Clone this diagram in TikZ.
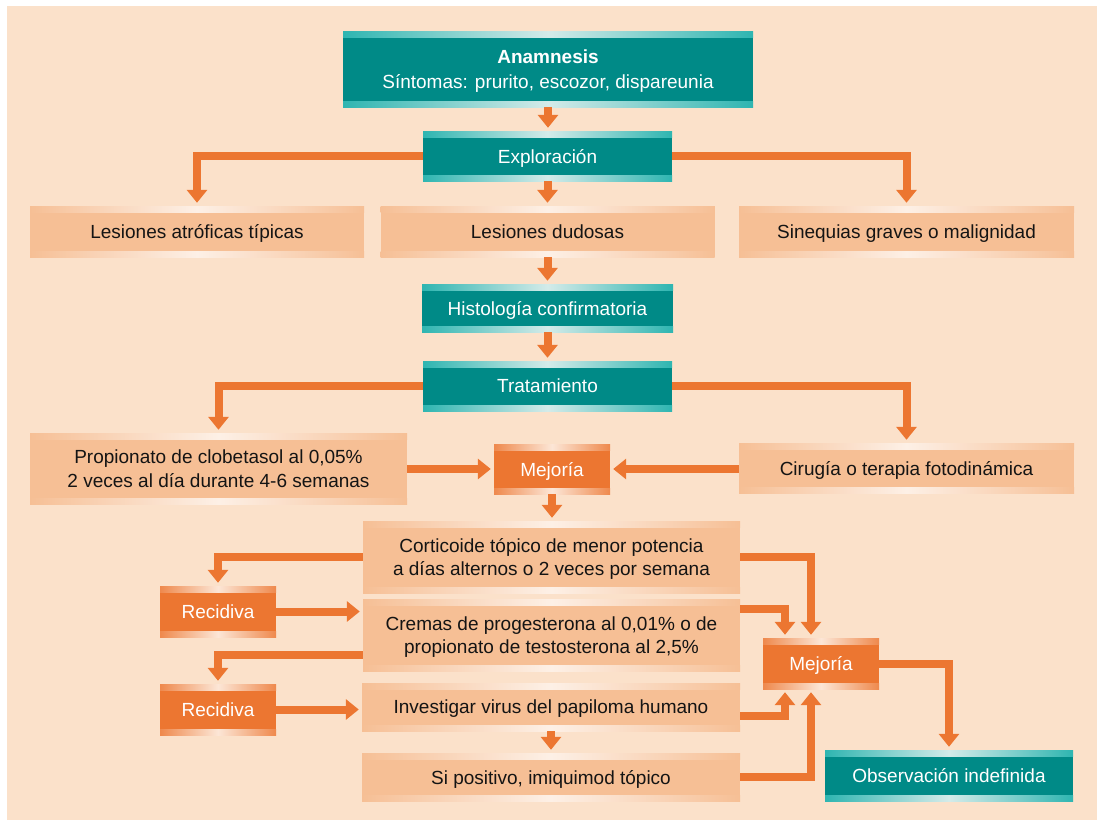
\documentclass[tikz,border=0pt]{standalone}
\usepackage{fontspec}
\setmainfont{Liberation Sans}
\usetikzlibrary{arrows.meta}

\definecolor{bgpeach}{HTML}{FBE1CA}
\definecolor{tealmain}{HTML}{008A87}
\definecolor{tealbright}{HTML}{00A6A1}
\definecolor{teallight}{HTML}{D4EBE9}
\definecolor{peachbox}{HTML}{F6BF95}
\definecolor{peachlight}{HTML}{FDF0E6}
\definecolor{orangemain}{HTML}{EC7631}
\definecolor{orangelight}{HTML}{FCE6D6}
\definecolor{inktext}{HTML}{141414}

% highlight bands along the top and bottom edge of every box
\pgfdeclarehorizontalshading{tealstrip}{100bp}{color(0bp)=(tealmain); color(18bp)=(tealbright); color(50bp)=(teallight); color(82bp)=(tealbright); color(100bp)=(tealmain)}
\pgfdeclarehorizontalshading{peachstrip}{100bp}{color(0bp)=(peachbox); color(25bp)=(peachbox); color(50bp)=(peachlight); color(75bp)=(peachbox); color(100bp)=(peachbox)}
\pgfdeclarehorizontalshading{orangestrip}{100bp}{color(0bp)=(orangemain); color(20bp)=(orangemain); color(50bp)=(orangelight); color(80bp)=(orangemain); color(100bp)=(orangemain)}

\newcommand\edgebands[1]{%
  \shade[shading=#1] (path picture bounding box.north west) rectangle ([yshift=-6pt]path picture bounding box.north east);
  \shade[shading=#1] (path picture bounding box.south west) rectangle ([yshift=6pt]path picture bounding box.south east);}

\tikzset{
  box/.style={inner sep=0pt, align=center, text depth=0pt, font=\fontsize{19}{23.5}\selectfont},
  tealbox/.style={box, fill=tealmain, text=white, path picture={\edgebands{tealstrip}}},
  peachbx/.style={box, fill=peachbox, text=inktext, path picture={\edgebands{peachstrip}}},
  orangebx/.style={box, fill=orangemain, text=white, path picture={\edgebands{orangestrip}}},
  conn/.style={draw=orangemain, line width=8pt, line join=miter,
    -{Triangle[width=20pt,length=13pt]}, shorten >=3pt},
}

\begin{document}
\begin{tikzpicture}[x=1pt,y=-1pt]
\useasboundingbox (0,0) rectangle (1101,820);
\fill[white] (0,0) rectangle (1101,820);
\fill[bgpeach] (7,6) rectangle (1097,820);

% nodes
\node[tealbox, minimum width=410pt, minimum height=76pt, font=\fontsize{19}{25}\selectfont] (anam) at (548,69)
  {\textbf{Anamnesis}\\Síntomas: prurito, escozor, dispareunia};
\node[tealbox, minimum width=249pt, minimum height=50pt] (expl) at (547.5,156) {Exploración};
\node[peachbx, minimum width=334pt, minimum height=51pt] (lat) at (197,231.5) {Lesiones atróficas típicas};
\node[peachbx, minimum width=334pt, minimum height=51pt] (dud) at (547.5,231.5) {Lesiones dudosas};
\node[peachbx, minimum width=335pt, minimum height=51pt] (sin) at (906.5,231.5) {Sinequias graves o malignidad};
\node[tealbox, minimum width=251pt, minimum height=48pt] (hist) at (547.5,308) {Histología confirmatoria};
\node[tealbox, minimum width=249pt, minimum height=50pt] (trat) at (547.5,386) {Tratamiento};
\node[peachbx, minimum width=377pt, minimum height=71pt] (prop) at (218.5,468.5)
  {Propionato de clobetasol al 0,05\%\\2 veces al día durante 4-6 semanas};
\node[peachbx, minimum width=335pt, minimum height=50pt] (cir) at (906.5,468) {Cirugía o terapia fotodinámica};
\node[orangebx, minimum width=116pt, minimum height=50pt] (mej1) at (552,469) {Mejoría};
\node[peachbx, minimum width=377pt, minimum height=72pt] (cort) at (551.5,557)
  {Corticoide tópico de menor potencia\\a días alternos o 2 veces por semana};
\node[orangebx, minimum width=116pt, minimum height=51pt] (rec1) at (218,611.5) {Recidiva};
\node[peachbx, minimum width=377pt, minimum height=72pt] (crem) at (551.5,635)
  {Cremas de progesterona al 0,01\% o de\\propionato de testosterona al 2,5\%};
\node[orangebx, minimum width=116pt, minimum height=51pt] (rec2) at (218,709.5) {Recidiva};
\node[peachbx, minimum width=378pt, minimum height=48pt] (inv) at (551,707) {Investigar virus del papiloma humano};
\node[peachbx, minimum width=378pt, minimum height=48pt] (pos) at (551,777) {Si positivo, imiquimod tópico};
\node[orangebx, minimum width=116pt, minimum height=51pt] (mej2) at (821,663.5) {Mejoría};
\node[tealbox, minimum width=248pt, minimum height=51pt] (obs) at (949,775.5) {Observación indefinida};

% connectors
\draw[conn] (anam.south) -- (anam.south |- expl.north);
\draw[conn] (expl.west) -| (lat.north);
\draw[conn] (expl.south) -- (dud.north);
\draw[conn] (expl.east) -| (sin.north);
\draw[conn] (dud.south) -- (hist.north);
\draw[conn] (hist.south) -- (trat.north);
\draw[conn] (trat.west) -| (prop.north);
\draw[conn] (trat.east) -| (cir.north);
\draw[conn] (prop.east |- mej1.west) -- (mej1.west);
\draw[conn] (cir.west |- mej1.east) -- (mej1.east);
\draw[conn] (mej1.south) -- (mej1.south |- cort.north);
\draw[conn] (cort.west) -| (rec1.north);
\draw[conn] (rec1.east) -- (rec1.east -| crem.west);
\draw[conn] ([yshift=16pt]crem.south west) -| (rec2.north);
\draw[conn] (rec2.east) -- (rec2.east -| inv.west);
\draw[conn] (inv.south) -- (pos.north);
\draw[conn] (cort.east) -| ([xshift=-10pt]mej2.north);
\draw[conn] ([yshift=26pt]crem.east) -| ([xshift=-36pt]mej2.north);
\draw[conn] ([yshift=-9pt]inv.east) -| ([xshift=-36pt]mej2.south);
\draw[conn] (pos.east) -| ([xshift=-10pt]mej2.south);
\draw[conn] (mej2.east) -| (obs.north);
\end{tikzpicture}
\end{document}
